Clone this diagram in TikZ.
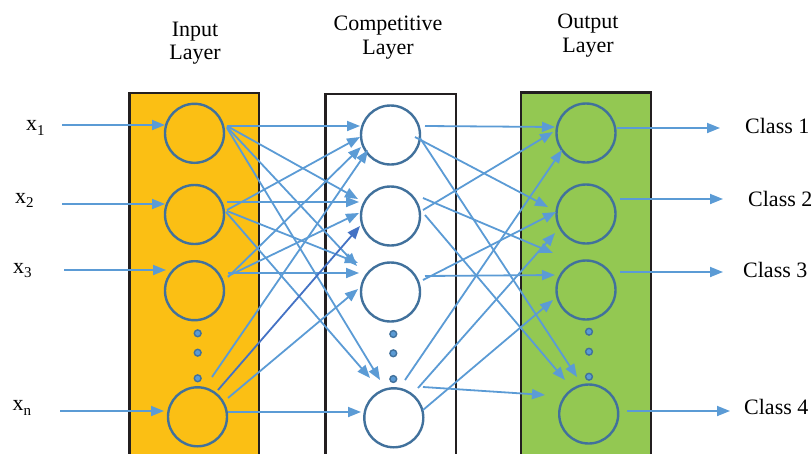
\documentclass[tikz,border=0pt]{standalone}
\usepackage{fontspec}
\setmainfont{Liberation Serif}
\usetikzlibrary{arrows.meta,calc}
\definecolor{boxline}{HTML}{231F20}
\definecolor{inputfill}{HTML}{FBBF14}
\definecolor{outputfill}{HTML}{93C852}
\definecolor{ringblue}{HTML}{41719C}
\definecolor{linkblue}{HTML}{5B9BD5}
\definecolor{darklink}{HTML}{4472C4}
\tikzset{
  layerbox/.style={draw=boxline, line width=2.6pt},
  neuron/.style={circle, draw=ringblue, line width=2.4pt, minimum size=59pt, inner sep=0pt},
  gapdot/.style={circle, fill=linkblue, draw=ringblue, line width=1.4pt, minimum size=6.8pt, inner sep=0pt},
  link/.style={draw=linkblue, line width=1.8pt, -{Triangle[length=13pt,width=10pt]}},
  label/.style={font=\fontsize{22pt}{23.5pt}\selectfont, inner sep=0pt},
  heading/.style={label, align=center, anchor=north},
}
\newcommand{\subidx}[1]{\raisebox{-4.5pt}{\fontsize{15pt}{15pt}\selectfont #1}}
\begin{document}
\begin{tikzpicture}[x=1pt, y=-1pt]
\useasboundingbox (0,0) rectangle (812,453);

% layer boxes
\draw[layerbox, fill=inputfill] (129.5,470) |- (259,93) -- (259,470);
\draw[layerbox, fill=white] (325.7,470) |- (456,94) -- (456,470);
\draw[layerbox, fill=outputfill] (521,470) |- (651,92.7) -- (651,470);

% headings
\node[heading] (hin) at (195,21.5) {Input\\Layer};
\node[heading] (hcomp) at (388,16) {Competitive\\Layer};
\node[heading] (hout) at (588,14) {Output\\Layer};

% neurons
\node[neuron] (i1) at (194.5,133.3) {};
\node[neuron] (i2) at (194.5,214.5) {};
\node[neuron] (i3) at (194.5,290.7) {};
\node[neuron] (in) at (197.5,416.8) {};
\node[neuron] (c1) at (390.5,135) {};
\node[neuron] (c2) at (390.5,216) {};
\node[neuron] (c3) at (390.5,292) {};
\node[neuron] (cn) at (393.8,417.8) {};
\node[neuron] (o1) at (586,133) {};
\node[neuron] (o2) at (586,214) {};
\node[neuron] (o3) at (586,290) {};
\node[neuron] (o4) at (588.7,414) {};

% ellipsis dots
\foreach \k/\yy in {1/333.3, 2/352.7, 3/378.3} \node[gapdot] (idot\k) at (197.7,\yy) {};
\foreach \k/\yy in {1/334, 2/353.3, 3/379} \node[gapdot] (cdot\k) at (393.3,\yy) {};
\foreach \k/\yy in {1/331.7, 2/351.7, 3/376.7} \node[gapdot] (odot\k) at (589,\yy) {};

% input labels and input arrows
\node[label, anchor=base west] (lx1) at (26,130.7) {x\subidx{1}};
\node[label, anchor=base west] (lx2) at (15,203.3) {x\subidx{2}};
\node[label, anchor=base west] (lx3) at (13,273.3) {x\subidx{3}};
\node[label, anchor=base west] (lxn) at (12.5,410.7) {x\subidx{n}};
\coordinate (s1) at (62,125);
\coordinate (s2) at (62,204);
\coordinate (s3) at (64,270);
\coordinate (sn) at (60,411);
\draw[link] (s1) -- ($(i1)+(-29.5,-8.3)$);
\draw[link] (s2) -- ($(i2)+(-29.5,-10.5)$);
\draw[link] (s3) -- ($(i3)+(-28.5,-20.7)$);
\draw[link] (sn) -- ($(in)+(-33.5,-5.8)$);

% input layer to competitive layer
\foreach \a/\ax/\ay/\b/\bx/\by in {
  i1/32.5/-7.3/c1/-30.5/-9,
  i1/32.5/-7.3/c2/-32.5/-17,
  i1/32.5/-6.3/c3/-33.5/-26,
  i1/32.5/-5.3/cn/-13.8/-37.8,
  i2/32.5/-4.5/c1/-30.5/2,
  i2/32.5/-12.5/c2/-31.5/-14,
  i2/32.5/-3.5/c3/-32.5/-29,
  i2/31.5/-2.5/cn/-23.8/-39.8,
  i3/33.5/-13.7/c1/-29.5/12,
  i3/33.5/-14.7/c2/-31.5/-3,
  i3/33.5/-17.7/c3/-31.5/-19,
  in/14.5/-39.8/c1/-22.5/15,
  in/30.5/-18.8/c3/-32.5/-3,
  in/30.5/-4.8/cn/-32.8/-5.8}
  \draw[link] ($(\a)+(\ax,\ay)$) -- ($(\b)+(\bx,\by)$);
\draw[link, draw=darklink] ($(in)+(20.5,-26.8)$) -- ($(c2)+(-30.5,10)$);

% competitive layer to output layer
\foreach \a/\ax/\ay/\b/\bx/\by in {
  c1/34.5/-9/o1/-31/-6,
  c1/24.5/2/o2/-38/-7,
  c1/29.5/3/o4/-11.7/-37,
  c2/32.5/-6/o1/-33/-1,
  c2/32.5/-18/o3/-33/-37,
  c2/34.5/-1/o4/-23.7/-34,
  c3/32.5/-12/o2/-30/-2,
  c3/34.5/-16/o3/-31/-15,
  cn/11.2/-37.8/o1/-24/17,
  cn/24.2/-29.8/o2/-31/19,
  cn/29.2/-7.8/o3/-33/10,
  cn/29.2/-30.8/o4/-43.7/-19}
  \draw[link] ($(\a)+(\ax,\ay)$) -- ($(\b)+(\bx,\by)$);

% output arrows and class labels
\coordinate (e1) at (720,128);
\coordinate (e2) at (723,199);
\coordinate (e3) at (723,272);
\coordinate (e4) at (730,411);
\draw[link] ($(o1)+(31,-5)$) -- (e1);
\draw[link] ($(o2)+(34,-15)$) -- (e2);
\draw[link] ($(o3)+(34,-18)$) -- (e3);
\draw[link] ($(o4)+(38.3,-3)$) -- (e4);
\node[label, anchor=base west] (k1) at (745,133) {Class 1};
\node[label, anchor=base west] (k2) at (748,206) {Class 2};
\node[label, anchor=base west] (k3) at (743,277.3) {Class 3};
\node[label, anchor=base west] (k4) at (744,414) {Class 4};
\end{tikzpicture}
\end{document}
